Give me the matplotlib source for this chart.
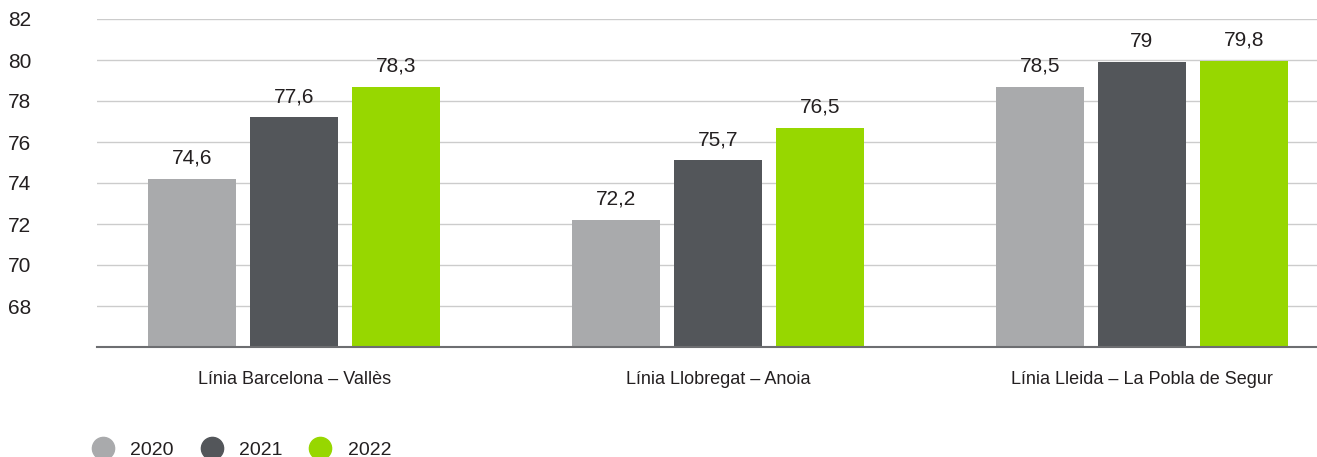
import numpy as np
import matplotlib.pyplot as plt
from matplotlib.lines import Line2D

plt.rcParams['font.family'] = ['Liberation Sans', 'DejaVu Sans']

categories = ['Línia Barcelona – Vallès', 'Línia Llobregat – Anoia', 'Línia Lleida – La Pobla de Segur']
years = ['2020', '2021', '2022']
# bar heights as drawn in the picture
heights_2020 = [74.2, 72.2, 78.7]
heights_2021 = [77.2, 75.1, 79.9]
heights_2022 = [78.7, 76.7, 79.95]
# value labels as printed
labels_2020 = ['74,6', '72,2', '78,5']
labels_2021 = ['77,6', '75,7', '79']
labels_2022 = ['78,3', '76,5', '79,8']
yticks = [68, 70, 72, 74, 76, 78, 80, 82]

colors = ['#a9aaac', '#53565a', '#97d700']
txt = '#231f20'

fig = plt.figure(figsize=(13.17, 4.57), dpi=100)
ax = fig.add_axes([97 / 1317, 1 - 347 / 457, 1 - 97 / 1317, (347 - 19) / 457])

x = np.arange(len(categories))
w = 0.208
step = 0.241
series = [(heights_2020, labels_2020), (heights_2021, labels_2021), (heights_2022, labels_2022)]
for i, (h, lab) in enumerate(series):
    pos = x + (i - 1) * step
    ax.bar(pos, np.array(h) - 66, w, bottom=66, color=colors[i], zorder=3)
    for p, hv, t in zip(pos, h, lab):
        ax.annotate(t, (p, hv), xytext=(0, 8), textcoords='offset points',
                    ha='center', va='bottom', fontsize=15, color=txt)

ax.set_ylim(66, 82)
ax.set_xlim(-0.465, 2.413)
ax.set_yticks(yticks)
ax.set_yticklabels([str(v) for v in yticks], ha='left')
ax.tick_params(axis='y', length=0, pad=64, labelsize=15, labelcolor=txt)
ax.set_xticks(x)
ax.set_xticklabels(categories)
ax.tick_params(axis='x', length=0, pad=17, labelsize=13, labelcolor=txt)
ax.grid(axis='y', color='#cccccc', linewidth=1, zorder=0)
for s in ['top', 'right', 'left']:
    ax.spines[s].set_visible(False)
ax.spines['bottom'].set_color('#6d6e71')
ax.spines['bottom'].set_linewidth(1.5)
ax.spines['bottom'].set_zorder(4)

handles = [Line2D([], [], marker='o', linestyle='', markersize=16, color=c) for c in colors]
fig.legend(handles, years, loc='center left', bbox_to_anchor=(0.061, 1 - 450 / 457),
           ncol=3, frameon=False, fontsize=14, handletextpad=0.66, columnspacing=1.2,
           labelcolor=txt, borderaxespad=0, handlelength=1.5)

fig.savefig('out.png', dpi=100)
